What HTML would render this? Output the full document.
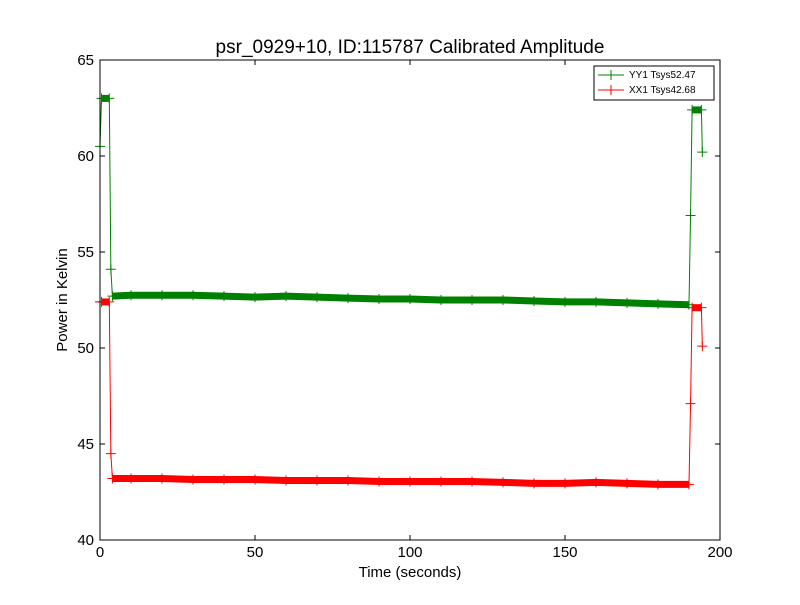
<!DOCTYPE html>
<html><head><meta charset="utf-8"><style>
body{margin:0;background:#fff}
svg{font-family:"Liberation Sans","DejaVu Sans",sans-serif}
</style></head><body>
<svg id="c" width="800" height="600" viewBox="0 0 800 600">
<rect width="800" height="600" fill="#fff"/>
<text x="410" y="53" font-size="19" text-anchor="middle">psr_0929+10, ID:115787 Calibrated Amplitude</text>
<g id="series"></g>
<rect x="100" y="60" width="620" height="480" fill="none" stroke="#000" stroke-width="1"/>
<g id="axes"></g>
<text x="410" y="577" font-size="15" text-anchor="middle">Time (seconds)</text>
<text x="67" y="300" font-size="15" text-anchor="middle" transform="rotate(-90 67 300)">Power in Kelvin</text>
<g>
<rect x="594" y="66" width="120" height="34" fill="#fff" stroke="#000" stroke-width="1"/>
<line x1="598" y1="75" x2="624" y2="75" stroke="green"/><path d="M611 70V80M606 75H616" stroke="green"/>
<text x="629" y="78" font-size="10">YY1 Tsys52.47</text>
<line x1="598" y1="90" x2="624" y2="90" stroke="red"/><path d="M611 85V95M606 90H616" stroke="red"/>
<text x="629" y="93" font-size="10">XX1 Tsys42.68</text>
</g>
</svg>
<script>
const xTicks=[0,50,100,150,200];
const yTicks=[40,45,50,55,60,65];
const yyTime=[0,0.5,3,3.5,4,10,20,30,40,50,60,70,80,90,100,110,120,130,140,150,160,170,180,190,190.5,191,194,194.3];
const yyVals=[60.5,63.0,63.0,54.1,52.7,52.75,52.75,52.75,52.7,52.65,52.7,52.65,52.6,52.55,52.55,52.5,52.5,52.5,52.45,52.4,52.4,52.35,52.3,52.25,56.9,62.4,62.4,60.2];
const xxTime=[0,0.5,3,3.5,4,10,20,30,40,50,60,70,80,90,100,110,120,130,140,150,160,170,180,190,190.5,191,194,194.3];
const xxVals=[52.4,52.4,52.4,44.5,43.2,43.2,43.2,43.15,43.15,43.15,43.1,43.1,43.1,43.05,43.05,43.05,43.05,43.0,42.95,42.95,43.0,42.95,42.9,42.9,47.1,52.1,52.1,50.1];
const NS="http://www.w3.org/2000/svg";
const X=t=>100+t*3.1, Y=v=>540-(v-40)*19.2;
const ax=document.getElementById('axes');
function mk(tag,attrs,parent){const e=document.createElementNS(NS,tag);for(const k in attrs)e.setAttribute(k,attrs[k]);parent.appendChild(e);return e;}
xTicks.forEach(t=>{
 const g=mk('g',{},ax);
 
 
 mk('line',{x1:X(t),x2:X(t),y1:540,y2:535,stroke:'#000'},g);
 mk('line',{x1:X(t),x2:X(t),y1:60,y2:65,stroke:'#000'},g);
 const tx=mk('text',{x:X(t),y:557,'font-size':15,'text-anchor':'middle'},g);tx.textContent=t;
});
yTicks.forEach(v=>{
 const g=mk('g',{},ax);
 
 
 mk('line',{x1:100,x2:105,y1:Y(v),y2:Y(v),stroke:'#000'},g);
 mk('line',{x1:720,x2:715,y1:Y(v),y2:Y(v),stroke:'#000'},g);
 const tx=mk('text',{x:94,y:Y(v)+5,'font-size':15,'text-anchor':'end'},g);tx.textContent=v;
});
const sg=document.getElementById('series');
function series(times,vals,color,name){
 const g=mk('g',{},sg);
 
 
 const pts=times.map((t,i)=>X(t)+','+Y(vals[i])).join(' ');
 mk('polyline',{points:pts,fill:'none',stroke:color,'stroke-width':1},g);
 // noise band on plateaus
 const segs=[[1,2],[4,23],[25,26]];
 segs.forEach(([a,b])=>{
  const p=[];for(let i=a;i<=b;i++)p.push(X(times[i])+','+Y(vals[i]));
  const band=mk('polyline',{points:p.join(' '),fill:'none',stroke:color,'stroke-width':7,'stroke-linejoin':'round'},g);
  
  
 });
 times.forEach((t,i)=>{
  const m=mk('path',{d:`M${X(t)} ${Y(vals[i])-5}V${Y(vals[i])+5}M${X(t)-5} ${Y(vals[i])}H${X(t)+5}`,stroke:color,'stroke-width':1},g);
  
  
 });
}
series(yyTime,yyVals,'green','yy1-series');
series(xxTime,xxVals,'red','xx1-series');
</script>
</body></html>
